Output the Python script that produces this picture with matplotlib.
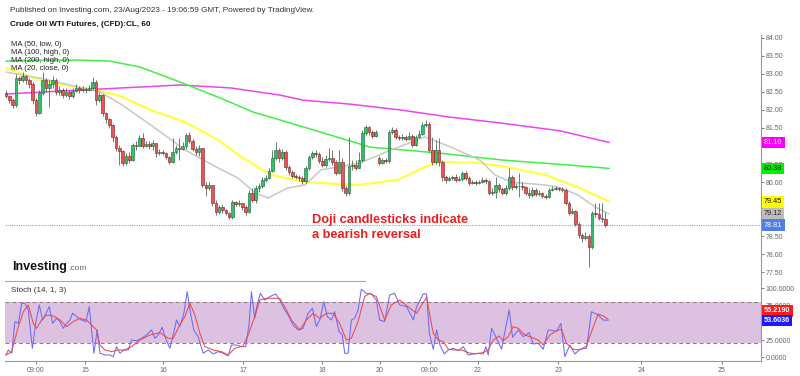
import matplotlib
matplotlib.use("Agg")
import matplotlib.pyplot as plt
import matplotlib.transforms as mtransforms
from matplotlib.lines import Line2D
import numpy as np

plt.rcParams['font.family'] = ['Liberation Sans', 'DejaVu Sans']

# hourly candles, CL 60
first_open = 82.47
closes = [82.39, 82.27, 82.14, 82.88, 82.83, 82.94, 82.83, 82.72, 82.27, 81.91,
          82.47, 82.83, 82.61, 82.72, 82.83, 82.50, 82.55, 82.41, 82.50, 82.39,
          82.52, 82.61, 82.55, 82.58, 82.55, 82.61, 82.77, 82.27, 82.41, 81.91,
          81.75, 81.58, 81.25, 80.94,
          80.86, 80.53, 80.72, 80.61, 81.03, 81.00, 81.22, 81.00, 81.06, 81.00,
          81.08, 80.81, 80.83, 80.81, 80.70, 80.56, 80.83, 80.94, 80.92, 81.00,
          81.30, 81.14, 80.92, 80.83, 80.94, 79.92, 79.84, 79.92, 79.42, 79.17,
          79.31, 79.23, 79.14, 79.03, 79.45, 79.39,
          79.42, 79.31, 79.17, 79.70, 79.50, 79.84, 79.89, 80.06, 80.11, 80.31,
          80.67, 80.89, 80.67, 80.83, 80.42, 80.28, 80.17, 80.14, 80.11, 80.03,
          80.39, 80.70, 80.81, 80.78, 80.58, 80.47, 80.64, 80.67, 80.56, 80.25,
          80.56, 79.84, 79.70, 80.45, 80.47, 80.39,
          80.61, 81.36, 81.53, 81.39, 81.28, 81.39, 80.53, 80.61, 80.58, 81.39,
          81.44, 81.25, 81.22, 81.25, 81.19, 81.28, 81.03, 81.25, 81.33, 81.58,
          81.61, 80.89, 80.56, 80.89, 80.56, 80.14, 80.06, 80.11, 80.14, 80.06,
          80.09, 80.25, 80.11, 79.98, 80.00, 79.98,
          80.00, 80.06, 80.03, 79.70, 79.73, 79.92, 79.81, 79.70, 79.84, 80.14,
          79.86, 79.89, 79.89, 79.86, 79.70, 79.64, 79.78, 79.67, 79.70, 79.62,
          79.59, 79.78, 79.81, 79.84, 79.81, 79.78, 79.42, 79.14, 79.20, 78.84,
          78.53, 78.45, 78.51, 78.20, 79.14, 79.12, 79.01, 78.98, 78.81]
highs = [82.55, 82.41, 82.33, 82.99, 82.94, 83.05, 82.97, 82.88, 82.77, 82.33,
         82.55, 83.05, 82.88, 82.83, 82.94, 82.88, 82.66, 82.61, 82.61, 82.55,
         82.61, 82.72, 82.66, 82.66, 82.63, 82.69, 82.91, 82.83, 82.50, 82.44,
         81.94, 81.78, 81.61, 81.30,
         81.03, 80.89, 80.81, 80.83, 81.08, 81.14, 81.30, 81.36, 81.14, 81.14,
         81.17, 81.03, 80.92, 80.89, 80.83, 80.72, 81.22, 81.03, 81.22, 81.11,
         81.36, 81.39, 81.19, 81.00, 81.03, 80.89, 80.00, 80.00, 79.92, 79.50,
         79.37, 79.39, 79.25, 79.17, 79.50, 79.48,
         79.50, 79.42, 79.37, 79.78, 79.84, 79.92, 79.98, 80.14, 80.20, 80.39,
         80.89, 81.11, 80.94, 80.92, 80.89, 80.47, 80.34, 80.22, 80.20, 80.17,
         80.45, 80.75, 80.86, 80.89, 80.83, 80.70, 80.75, 80.94, 80.89, 80.61,
         80.89, 80.67, 79.89, 81.25, 80.61, 80.61,
         80.83, 81.44, 81.58, 81.55, 81.44, 81.44, 80.72, 80.67, 80.67, 81.44,
         81.53, 81.50, 81.30, 81.33, 81.30, 81.39, 81.33, 81.30, 81.44, 81.66,
         81.72, 81.66, 81.25, 81.17, 81.22, 80.61, 80.20, 80.17, 80.20, 80.22,
         80.17, 80.31, 80.31, 80.17, 80.06, 80.06,
         80.06, 80.14, 80.11, 80.06, 79.84, 80.14, 79.98, 79.86, 79.92, 80.39,
         80.20, 79.98, 80.25, 80.00, 79.89, 79.84, 79.86, 79.84, 79.78, 79.73,
         79.67, 79.84, 79.89, 79.89, 79.86, 79.86, 79.84, 79.48, 79.28, 79.23,
         78.89, 78.59, 78.62, 78.56, 79.20, 79.42, 79.42, 79.42, 79.17]
lows = [82.33, 82.19, 82.05, 82.08, 82.72, 82.77, 82.72, 82.61, 82.16, 81.83,
        81.89, 82.41, 82.50, 82.08, 82.61, 82.41, 82.41, 82.33, 82.36, 82.30,
        82.33, 82.50, 82.47, 82.50, 82.47, 82.52, 82.55, 82.14, 82.22, 81.83,
        81.64, 81.50, 81.11, 80.86,
        80.47, 80.45, 80.47, 80.53, 80.58, 80.89, 81.00, 80.94, 80.97, 80.92,
        80.89, 80.70, 80.75, 80.75, 80.64, 80.50, 80.53, 80.78, 80.61, 80.89,
        80.92, 81.08, 80.86, 80.75, 80.72, 79.86, 79.62, 79.78, 79.34, 79.09,
        79.12, 79.14, 79.09, 78.98, 78.98, 79.34,
        79.34, 79.23, 79.09, 79.14, 79.45, 79.42, 79.73, 79.84, 80.00, 80.09,
        80.28, 80.61, 80.56, 80.61, 80.34, 80.20, 80.11, 80.09, 80.03, 79.95,
        79.98, 80.34, 80.64, 80.70, 80.53, 80.42, 80.42, 80.58, 80.47, 80.20,
        80.22, 79.75, 79.62, 79.64, 80.34, 80.34,
        80.45, 80.56, 81.30, 81.30, 81.22, 81.25, 80.47, 80.50, 80.53, 80.53,
        81.33, 81.19, 81.17, 81.17, 81.14, 81.17, 80.97, 81.00, 81.22, 81.30,
        81.53, 80.83, 80.47, 80.50, 80.45, 80.03, 79.98, 80.03, 80.06, 80.00,
        80.03, 80.03, 80.06, 79.92, 79.95, 79.92,
        79.95, 79.98, 79.95, 79.64, 79.64, 79.56, 79.73, 79.64, 79.64, 79.78,
        79.78, 79.81, 79.59, 79.78, 79.64, 79.56, 79.59, 79.62, 79.62, 79.56,
        79.53, 79.56, 79.75, 79.78, 79.75, 79.73, 79.37, 79.09, 79.12, 78.78,
        78.45, 78.34, 78.40, 77.65, 78.15, 79.03, 78.95, 78.89, 78.76]
sunday_bar = 112      # first bar after the weekend gap
sunday_open = 80.67

# moving averages (bar, price)
ma200_x = [0, 16.2, 35.1, 52.3, 67.3, 82.3, 89.2, 103.3, 118.3, 133.3, 148.3, 166.4, 181.1]
ma200_y = [82.44, 82.52, 82.61, 82.69, 82.61, 82.41, 82.27, 82.16, 82.00, 81.80, 81.64, 81.42, 81.10]
ma100_x = [0, 10.2, 22.2, 31.2, 40.2, 52.3, 64.3, 74.2, 82.3, 94.3, 109.3, 129.4, 149.2, 169.4, 181.1]
ma100_y = [83.35, 83.38, 83.38, 83.35, 83.19, 82.77, 82.33, 81.94, 81.72, 81.39, 80.97, 80.81, 80.61, 80.47, 80.38]
ma50_x = [0, 10.2, 19.2, 26.7, 33.6, 43.5, 53.8, 63.7, 70.3, 79.6, 89.8, 99.7, 105.7, 117.7,
          125.8, 130.3, 142.3, 151.7, 161.9, 171.8, 181.1]
ma50_y = [83.16, 82.83, 82.66, 82.55, 82.41, 82.00, 81.66, 81.17, 80.72, 80.20, 80.00, 79.95, 79.92, 80.06,
          80.42, 80.56, 80.53, 80.39, 80.20, 79.86, 79.46]
ma20_x = [0, 10.2, 19.2, 28.2, 34.8, 43.5, 53.8, 63.7, 69.7, 74.8, 78.7, 84.7, 89.8, 94.6, 99.7,
          106.3, 115.6, 125.8, 133.6, 142.3, 146.8, 151.7, 161.9, 166.7, 171.8, 176.9, 181.1]
ma20_y = [83.05, 82.88, 82.69, 82.50, 82.14, 81.58, 80.89, 80.39, 80.11, 79.70, 79.56, 79.84, 79.92, 80.34, 80.42,
          80.53, 80.89, 81.25, 80.97, 80.61, 80.20, 80.00, 79.92, 79.84, 79.64, 79.31, 79.12]

# stochastic (14, 1, 3)
k_x = [0, 0.7, 1.7, 2.7, 3.7, 4.7, 5.7, 6.7, 7.9, 9.0, 10.0, 11.0, 12.0, 13.0, 14.0, 15.2, 16.2, 17.2,
       18.2, 19.2, 20.0, 21.2, 22.7, 24.0, 25.0, 25.7, 26.4, 27.4, 28.2, 29.7, 31.2, 32.2, 33.2, 34.2,
       35.4, 36.7, 37.7, 39.2, 40.7, 42.2, 43.7, 44.7, 45.7, 46.9, 47.9, 49.2, 50.2, 51.2, 52.2, 53.4,
       54.4, 55.4, 56.4, 57.7, 59.2, 60.7, 62.2, 63.7, 65.2, 66.7, 67.7, 69.2, 70.7, 72.0, 73.0, 73.7,
       74.7, 75.4, 76.4, 77.7, 79.2, 81.0, 82.2, 83.7, 84.7, 86.2, 87.7, 89.2, 90.7, 92.0, 93.2, 94.4,
       95.4, 96.5, 97.7, 98.7, 100.0, 101.0, 101.7, 102.7, 103.7, 104.7, 105.7, 106.7, 108.2, 109.7,
       111.2, 112.2, 113.7, 115.2, 116.7, 118.2, 120.3, 122.3, 123.3, 125.3, 126.3, 127.1, 128.3, 129.3,
       130.3, 131.6, 132.8, 134.3, 135.8, 137.3, 138.8, 140.3, 141.8, 143.3, 144.1, 144.8, 145.8, 147.3,
       148.8, 149.8, 151.1, 152.1, 153.8, 155.3, 157.1, 158.3, 159.8, 161.3, 162.8, 164.3, 165.3, 166.6,
       167.8, 169.3, 170.8, 172.3, 174.3, 175.8, 177.8, 179.3, 180.8]
k_v = [3.3, 10.6, 5.8, 51.7, 49.0, 78.0, 78.0, 68.6, 13.0, 51.7, 75.8, 54.0, 63.7, 73.4, 49.0, 56.5, 51.7,
       42.0, 49.0, 54.0, 63.7, 58.9, 54.0, 51.7, 73.4, 39.6, 5.8, 39.6, 5.8, 3.3, 3.3, 0.9, 15.4, 5.8, 10.6,
       10.6, 25.0, 24.0, 27.5, 32.3, 39.6, 27.5, 32.3, 43.5, 27.5, 13.0, 32.3, 54.0, 44.4, 63.7, 95.0, 63.7,
       39.6, 29.9, 5.8, 10.6, 4.8, 8.2, 5.8, 2.0, 17.8, 17.8, 15.4, 15.4, 49.0, 95.0, 56.5, 75.8, 92.7, 83.0,
       87.9, 91.8, 83.0, 68.6, 61.3, 46.8, 39.6, 42.0, 63.7, 71.0, 44.4, 56.5, 80.6, 58.9, 54.0, 66.1, 37.2,
       32.3, 5.8, 5.8, 54.0, 56.5, 68.6, 98.5, 92.7, 91.8, 83.0, 54.0, 51.7, 90.3, 92.7, 75.8, 73.4, 54.0,
       73.4, 91.8, 91.8, 34.8, 11.6, 39.6, 17.8, 4.8, 10.6, 13.0, 9.6, 15.4, 3.3, 4.8, 5.8, 4.8, 15.4, 3.3,
       42.0, 27.5, 11.6, 37.2, 68.6, 29.0, 39.6, 29.9, 35.7, 19.3, 20.3, 11.6, 39.6, 38.6, 37.2, 49.0, 0.9,
       17.8, 4.8, 11.6, 13.0, 66.1, 61.3, 54.0, 53.6]
d_x = [0, 1.7, 3.7, 5.2, 6.7, 8.2, 9.2, 10.7, 12.2, 14.2, 16.2, 18.2, 20.2, 22.2, 24.2, 25.7, 27.2, 28.2,
       29.7, 31.7, 33.7, 35.7, 37.7, 40.2, 43.2, 46.2, 48.7, 50.2, 52.2, 53.7, 55.2, 56.7, 58.2, 59.7, 62.2,
       64.7, 66.7, 68.7, 71.2, 72.7, 74.7, 76.2, 78.2, 80.2, 82.2, 83.7, 85.7, 88.2, 90.2, 92.2, 94.2, 96.2,
       98.2, 100.2, 102.2, 103.7, 105.7, 107.7, 109.2, 111.2, 113.7, 115.7, 118.2, 121.3, 123.3, 124.8,
       126.3, 127.3, 128.3, 129.8, 131.3, 132.8, 134.8, 136.8, 138.8, 140.8, 143.3, 144.8, 146.3, 148.1,
       149.3, 150.8, 152.3, 153.8, 155.8, 157.8, 159.8, 161.3, 163.3, 165.3, 166.8, 168.3, 170.3, 172.3,
       174.3, 175.8, 177.8, 179.3, 180.8]
d_v = [3.3, 8.0, 44.4, 66.0, 75.8, 49.0, 42.0, 54.0, 61.3, 60.0, 54.0, 44.4, 51.7, 56.5, 54.0, 46.8, 39.6,
       17.8, 10.6, 8.2, 10.6, 10.6, 15.4, 25.0, 32.3, 35.7, 27.5, 27.5, 46.8, 58.9, 78.2, 61.3, 34.8, 15.4,
       10.6, 8.2, 3.3, 13.0, 16.4, 32.3, 58.9, 83.0, 85.5, 85.5, 85.5, 73.4, 54.0, 39.6, 54.0, 63.7, 56.5,
       63.7, 63.7, 49.0, 25.0, 27.5, 51.7, 87.9, 92.7, 87.9, 54.0, 75.8, 83.0, 71.0, 63.7, 75.8, 87.0, 58.9,
       34.8, 25.0, 22.7, 11.6, 10.6, 10.6, 6.7, 4.8, 6.7, 10.6, 25.0, 30.9, 24.0, 29.9, 44.4, 42.0, 32.3,
       29.0, 25.0, 17.8, 32.3, 38.6, 40.6, 20.3, 11.6, 10.6, 16.4, 37.2, 62.8, 60.0, 55.2]

last_k, last_d = 53.6036, 55.2190
ma200_last, ma100_last, ma50_last, ma20_last, last_price = 81.10, 80.38, 79.45, 79.12, 78.81

tick_pos = [9.0, 23.7, 47.1, 71.2, 94.9, 112.3, 127.3, 141.7, 165.8, 190.7, 215.0]
tick_labels = ['09:00', '15', '16', '17', '18', '20', '09:00', '22', '23', '24', '25']

assert len(closes) == len(highs) == len(lows)
assert len(k_x) == len(k_v) and len(d_x) == len(d_v)

W, H = 800, 376
fig = plt.figure(figsize=(8, 3.76), dpi=100)
fig.patch.set_facecolor('white')


def px_box(x0, y0, x1, y1):
    return [x0 / W, 1 - y1 / H, (x1 - x0) / W, (y1 - y0) / H]


ax = fig.add_axes(px_box(5, 35, 761, 280))
ax2 = fig.add_axes(px_box(5, 280, 761, 361), sharex=ax)

# ---- candles ----
n = len(closes)
opens = [first_open] + closes[:-1]
opens[sunday_bar] = sunday_open
idx = np.arange(n)
o = np.array(opens)
c = np.array(closes)
h = np.maximum(np.array(highs), np.maximum(o, c))
l = np.minimum(np.array(lows), np.minimum(o, c))
up = c >= o
body_lo = np.minimum(o, c)
body_h = np.maximum(np.abs(c - o), 0.012)

for xs, ys, col, lw in [(ma200_x, ma200_y, '#ee44ee', 1.1),
                        (ma100_x, ma100_y, '#44ee44', 1.1),
                        (ma50_x, ma50_y, '#ffff44', 1.6),
                        (ma20_x, ma20_y, '#c8c8c8', 1.1)]:
    ax.plot(xs, ys, color=col, lw=lw, zorder=2, solid_capstyle='round')

ax.vlines(idx, l, h, color='#4d6b57', lw=0.6, zorder=3)
ax.bar(idx[up], body_h[up], bottom=body_lo[up], width=0.78, color='#2ec26a',
       edgecolor='#1e5e38', linewidth=0.4, zorder=4)
ax.bar(idx[~up], body_h[~up], bottom=body_lo[~up], width=0.78, color='#ea5455',
       edgecolor='#7a2020', linewidth=0.4, zorder=4)

ax.axhline(last_price, color='#7fa5f0', lw=0.8, ls=(0, (1, 1)), zorder=1)

ax.set_xlim(-0.3, 226.7)
ax.set_ylim(77.288, 84.075)
price_ticks = np.arange(77.5, 84.01, 0.5)
ax.set_yticks(price_ticks)
# labels that sit fully behind the value boxes are left blank
hidden = {81.0, 79.5, 79.0}
ax.set_yticklabels(['' if round(v, 2) in hidden else f'{v:.2f}' for v in price_ticks])
ax.yaxis.tick_right()
ax.tick_params(axis='y', labelsize=5, colors='#666666', length=2, width=0.6, pad=1.5)
ax.tick_params(axis='x', bottom=False, labelbottom=False)
for s in ['top', 'left', 'bottom']:
    ax.spines[s].set_visible(False)
ax.spines['right'].set_color('#999999')
ax.spines['right'].set_linewidth(0.8)

blend = mtransforms.blended_transform_factory(ax.transAxes, ax.transData)
for val, bg, fg in [(ma200_last, '#ff00ff', 'white'), (ma100_last, '#00ee00', '#111111'),
                    (ma50_last, '#ffff00', '#111111'), (ma20_last, '#bdbdbd', '#222222'),
                    (last_price, '#4f7fe6', 'white')]:
    ax.text(1.004, val, f'{val:.2f}', transform=blend, ha='left', va='center',
            fontsize=5.2, color=fg, zorder=10, clip_on=False,
            bbox=dict(boxstyle='square,pad=0.3', fc=bg, ec='none'))

# ---- stochastic ----
ax2.axhspan(20, 80, color='#dcc1e0', zorder=0, lw=0)
ax2.axhline(20, color='#8a7a8a', lw=0.7, ls=(0, (4, 3)), zorder=1)
ax2.axhline(80, color='#8a7a8a', lw=0.7, ls=(0, (4, 3)), zorder=1)
ax2.plot(k_x, k_v, color='#6b6bf5', lw=0.75, zorder=3)
ax2.plot(d_x, d_v, color='#f04848', lw=0.75, zorder=3)
ax2.set_ylim(-5.4, 112.0)
stoch_ticks = [0, 25, 50, 75, 100]
ax2.set_yticks(stoch_ticks)
ax2.set_yticklabels(['' if v == 50 else f'{v:.4f}' for v in stoch_ticks])
ax2.yaxis.tick_right()
ax2.tick_params(axis='y', labelsize=5, colors='#666666', length=2, width=0.6, pad=1.5)
ax2.set_xticks(tick_pos)
ax2.set_xticklabels(tick_labels)
ax2.tick_params(axis='x', labelsize=5, colors='#666666', length=2, width=0.6, pad=2)
for s in ['top', 'left']:
    ax2.spines[s].set_visible(False)
for s in ['right', 'bottom']:
    ax2.spines[s].set_color('#999999')
    ax2.spines[s].set_linewidth(0.8)

blend2 = mtransforms.blended_transform_factory(ax2.transAxes, ax2.transData)
ax2.text(1.004, last_d + 12, f'{last_d:.4f}', transform=blend2, ha='left', va='center',
         fontsize=5.2, color='white', fontweight='bold', zorder=10, clip_on=False,
         bbox=dict(boxstyle='square,pad=0.3', fc='#ff1a1a', ec='none'))
ax2.text(1.004, last_k, f'{last_k:.4f}', transform=blend2, ha='left', va='center',
         fontsize=5.2, color='white', fontweight='bold', zorder=10, clip_on=False,
         bbox=dict(boxstyle='square,pad=0.3', fc='#1a1aff', ec='none'))

# separator under the price pane
fig.add_artist(Line2D([5 / W, 365 / W], [1 - 281 / H] * 2, color='#aaaaaa', lw=0.8))

# ---- texts ----
fig.text(10 / W, 1 - 11 / H,
         'Published on Investing.com, 23/Aug/2023 - 19:06:59 GMT, Powered by TradingView.',
         fontsize=5.9, color='#333333', va='center')
fig.text(10 / W, 1 - 25 / H, 'Crude Oil WTI Futures, (CFD):CL, 60', fontsize=5.9,
         fontweight='bold', color='#111111', va='center')
for i, t in enumerate(['MA (50, low, 0)', 'MA (100, high, 0)', 'MA (200, high, 0)', 'MA (20, close, 0)']):
    fig.text(11 / W, 1 - (45 + 8 * i) / H, t, fontsize=5.5, color='#222222', va='center')

fig.text(312 / W, 1 - 223 / H, 'Doji candlesticks indicate', fontsize=9.2, fontweight='bold',
         color='#ee1c1c', va='baseline')
fig.text(312 / W, 1 - 238 / H, 'a bearish reversal', fontsize=9.2, fontweight='bold',
         color='#ee1c1c', va='baseline')

fig.text(12 / W, 1 - 270 / H, 'Investing', fontsize=9, fontweight='bold', color='#111111', va='baseline')
fig.text(68 / W, 1 - 270 / H, '.com', fontsize=6, color='#666666', va='baseline')
fig.text(11 / W, 1 - 291 / H, 'Stoch (14, 1, 3)', fontsize=5.8, color='#333333', va='center')

fig.savefig('out.png', dpi=100)
